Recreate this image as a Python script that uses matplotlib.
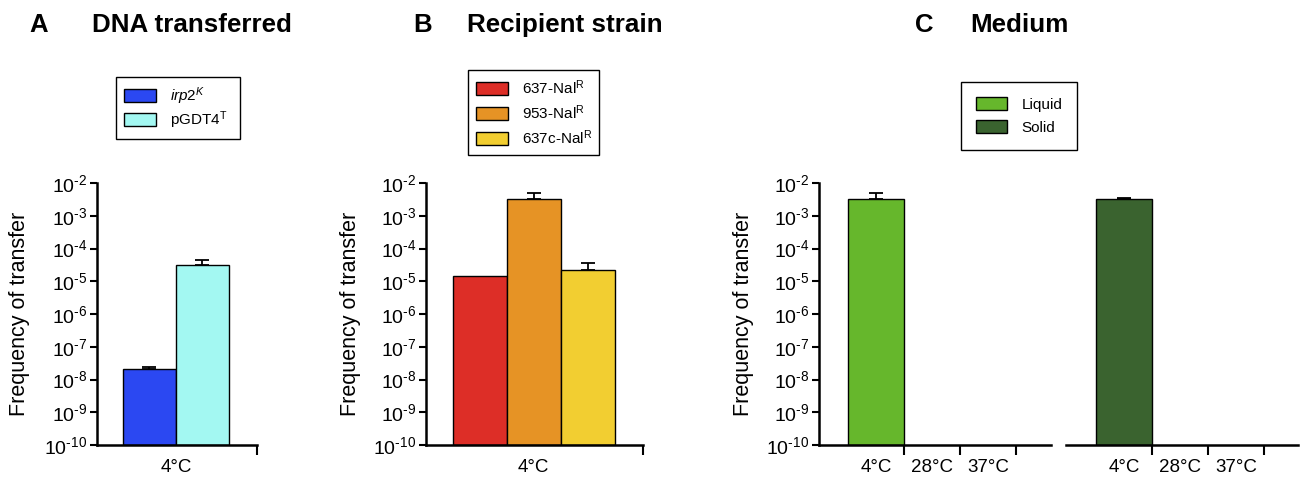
import matplotlib
matplotlib.use('Agg')
import matplotlib.pyplot as plt
from matplotlib.patches import Patch
from matplotlib.ticker import NullLocator

plt.rcParams['font.family'] = 'Liberation Sans'
plt.rcParams['mathtext.fontset'] = 'custom'
plt.rcParams['mathtext.rm'] = 'Liberation Sans'
plt.rcParams['mathtext.it'] = 'Liberation Sans:italic'
plt.rcParams['mathtext.bf'] = 'Liberation Sans:bold'

W, H = 1301, 480
YMIN, YMAX = 1e-10, 1e-2

# A - DNA transferred
dna_labels = [r'$\mathit{irp2}^{\mathit{K}}$', r'pGDT4$^{\mathrm{T}}$']
dna_freq = [2.1e-8, 3.2e-5]
dna_err = [0.35e-8, 1.2e-5]
dna_colors = ['#2B48F2', '#A3F8F2']

# B - recipient strain
strain_labels = [r'637-Nal$^{\mathrm{R}}$', r'953-Nal$^{\mathrm{R}}$', r'637c-Nal$^{\mathrm{R}}$']
strain_freq = [1.45e-5, 3.2e-3, 2.2e-5]
strain_err = [0, 1.6e-3, 1.3e-5]
strain_colors = ['#DD2E27', '#E69325', '#F2CE31']

# C - medium
temps = ['4°C', '28°C', '37°C']
medium_labels = ['Liquid', 'Solid']
liquid_freq = [3.3e-3, 0, 0]
liquid_err = [1.7e-3, 0, 0]
solid_freq = [3.3e-3, 0, 0]
solid_err = [0.1e-3, 0, 0]
medium_colors = ['#66B72C', '#3A632F']


def make_axes(l, r, t, b):
    return fig.add_axes([l / W, 1 - b / H, (r - l) / W, (b - t) / H])


def style_axes(ax, xlim, show_y=True):
    ax.set_yscale('log')
    ax.set_ylim(YMIN, YMAX)
    ax.set_xlim(*xlim)
    exps = list(range(-10, -1))
    ax.set_yticks([10.0 ** e for e in exps],
                  [r'$10^{\text{-}%d}$' % (-e) for e in exps])
    ax.yaxis.set_minor_locator(NullLocator())
    ax.tick_params(axis='y', which='major', length=5, width=1.5, labelsize=14, pad=2)
    ax.tick_params(axis='x', which='major', length=7, width=1.5, direction='out')
    ax.tick_params(axis='x', which='minor', length=0, labelsize=13.5, pad=10)
    for s in ['top', 'right']:
        ax.spines[s].set_visible(False)
    ax.spines['bottom'].set_linewidth(1.8)
    ax.spines['left'].set_linewidth(1.8)
    if not show_y:
        ax.spines['left'].set_visible(False)
        ax.tick_params(axis='y', which='both', left=False, labelleft=False)
    ax.set_facecolor('none')


def draw_bars(ax, xs, vals, errs, colors):
    for x, v, e, c in zip(xs, vals, errs, colors):
        if v <= 0:
            continue
        ax.bar(x, v - YMIN, bottom=YMIN, width=1.0, color=c,
               edgecolor='black', linewidth=1.0, zorder=2)
        if e > 0:
            ax.errorbar(x, v, yerr=[[0], [e]], fmt='none', ecolor='black',
                        elinewidth=1.3, capsize=5, capthick=1.3, zorder=3)


def add_legend(ax, labels, colors, left, right, top, bottom, bp, ls):
    handles = [Patch(facecolor=c, edgecolor='black', linewidth=1.0) for c in colors]
    leg = ax.legend(handles, labels, loc='upper left', mode='expand',
                    bbox_to_anchor=(left / W, 1 - bottom / H,
                                    (right - left) / W, (bottom - top) / H),
                    bbox_transform=fig.transFigure, fontsize=11,
                    frameon=True, fancybox=False, framealpha=1,
                    edgecolor='black', borderpad=bp, labelspacing=ls,
                    handlelength=2.05, handleheight=0.95, handletextpad=0.95,
                    borderaxespad=0)
    leg.get_frame().set_linewidth(1.0)


def ylabel(ax, xfrac):
    ax.set_ylabel('Frequency of transfer', fontsize=15.5)
    ax.yaxis.set_label_coords(xfrac, 0.5)


fig = plt.figure(figsize=(13.01, 4.8), dpi=100)

# panel A
axA = make_axes(97, 257, 183, 445)
style_axes(axA, (-0.99, 2.03))
draw_bars(axA, [0, 1], dna_freq, dna_err, dna_colors)
axA.set_xticks([2.03], [''])
axA.set_xticks([0.5], ['4°C'], minor=True)
ylabel(axA, -0.42)
add_legend(axA, dna_labels, dna_colors, 116, 240, 77, 141, 0.54, 0.16)

# panel B
axB = make_axes(426, 643, 183, 445)
style_axes(axB, (-0.99, 3.02))
draw_bars(axB, [0, 1, 2], strain_freq, strain_err, strain_colors)
axB.set_xticks([3.02], [''])
axB.set_xticks([1], ['4°C'], minor=True)
ylabel(axB, -0.30)
add_legend(axB, strain_labels, strain_colors, 468, 599, 70, 158, 0.54, 0.42)

# panel C, liquid and solid side by side
axC1 = make_axes(819, 1051, 183, 445)
style_axes(axC1, (-1.02, 3.12))
draw_bars(axC1, [0, 1, 2], liquid_freq, liquid_err, [medium_colors[0]] * 3)
axC1.set_xticks([0.5, 1.5, 2.5], ['', '', ''])
axC1.set_xticks([0, 1, 2], temps, minor=True)
ylabel(axC1, -0.28)

axC2 = make_axes(1066, 1298, 183, 445)
style_axes(axC2, (-1.04, 3.11), show_y=False)
draw_bars(axC2, [0, 1, 2], solid_freq, solid_err, [medium_colors[1]] * 3)
axC2.set_xticks([0.5, 1.5, 2.5], ['', '', ''])
axC2.set_xticks([0, 1, 2], temps, minor=True)
add_legend(axC1, medium_labels, medium_colors, 961, 1077, 82, 149, 0.98, 0.54)

# panel titles
for letter, lx, title, tx in [('A', 29, 'DNA transferred', 92),
                              ('B', 413, 'Recipient strain', 467),
                              ('C', 915, 'Medium', 970)]:
    fig.text(lx / W, 1 - 32 / H, letter, fontsize=18.5, fontweight='bold', va='baseline')
    fig.text(tx / W, 1 - 32 / H, title, fontsize=18.7, fontweight='bold', va='baseline')

fig.savefig('out.png', dpi=100)
